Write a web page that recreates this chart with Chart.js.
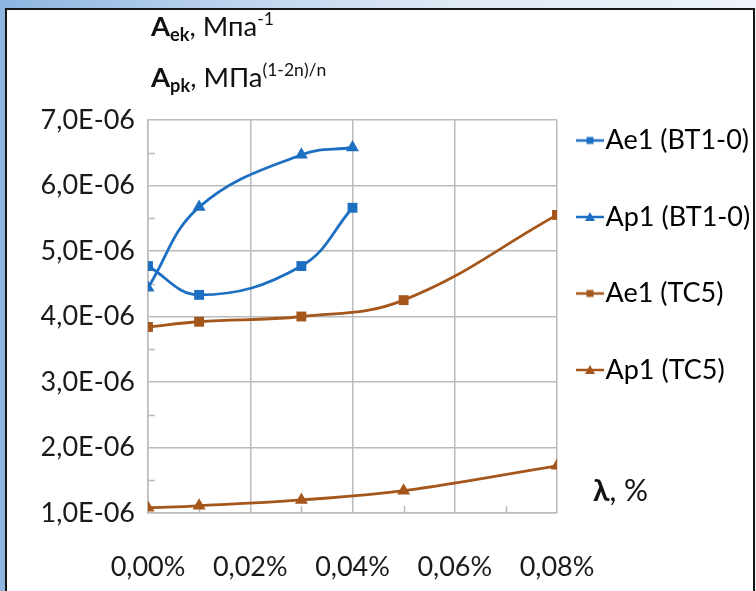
<!DOCTYPE html>
<html>
<head>
<meta charset="utf-8">
<script src="https://cdn.jsdelivr.net/npm/chart.js@4/dist/chart.umd.min.js"></script>
<style>
  html, body { margin: 0; padding: 0; }
  body {
    width: 756px; height: 591px; overflow: hidden; position: relative;
    background: linear-gradient(to right, #8cb5e0 0%, #bcd3ee 30%, #dfe9f5 60%, #eef3f9 100%);
    font-family: Lato, "Open Sans", sans-serif;
  }
  #panel {
    position: absolute; left: 5px; top: 8px; width: 746px; height: 600px;
    background: #fff; border: 2px solid #151515;
  }
  #wrap { position: absolute; left: 0; top: 0; width: 756px; height: 591px; }
  .note { position: absolute; color: #111; white-space: nowrap; font-family: Lato, "Open Sans", sans-serif; line-height: 1; }
  .note b { font-weight: 700; }
  .note sub { font-size: 0.66em; font-weight: 700; vertical-align: -0.3em; }
  .note sup { font-size: 0.64em; vertical-align: 0.6em; }
</style>
</head>
<body>
<div id="panel"></div>
<div id="wrap"><canvas id="c" width="756" height="591"></canvas></div>
<div class="note" style="left:151px; top:10px; font-size:27.5px;"><b>A</b><sub>ek</sub>, Мпа<sup>-1</sup></div>
<div class="note" style="left:151px; top:61px; font-size:27.5px;"><b>A</b><sub>pk</sub>, МПа<sup>(1-2n)/n</sup></div>
<div class="note" style="left:593px; top:474px; font-size:30px;"><b>λ</b>, %</div>
<script>
// ---- data ----
const seriesNames = ['Ae1 (BT1-0)', 'Ap1 (BT1-0)', 'Ae1 (TC5)', 'Ap1 (TC5)'];
const xBT = [0, 0.01, 0.03, 0.04];              // λ, %
const ae1BT = [4.77e-6, 4.33e-6, 4.77e-6, 5.66e-6];
const ap1BT = [4.44e-6, 5.67e-6, 6.47e-6, 6.58e-6];
const xTC = [0, 0.01, 0.03, 0.05, 0.08];        // λ, %
const ae1TC = [3.84e-6, 3.92e-6, 4.00e-6, 4.25e-6, 5.55e-6];
const ap1TC = [1.08e-6, 1.11e-6, 1.20e-6, 1.34e-6, 1.72e-6];
const xTickLabels = ['0,00%', '0,02%', '0,04%', '0,06%', '0,08%'];
const yTickLabels = ['1,0E-06', '2,0E-06', '3,0E-06', '4,0E-06', '5,0E-06', '6,0E-06', '7,0E-06'];
const yMinorTicks = [1.5e-6, 2.5e-6, 3.5e-6, 4.5e-6, 5.5e-6, 6.5e-6];
const xMinorTicks = [0.01, 0.03, 0.05, 0.07];

const BLUE = '#1d6fc2';
const BROWN = '#a4561b';
const GRID = '#bbbbbb';

function pts(xs, ys) { return xs.map((x, i) => ({ x: x, y: ys[i] })); }

// legend icon: line + marker, drawn in the right part of a wider transparent canvas
function legendIcon(color, shape) {
  const c = document.createElement('canvas');
  c.width = 56; c.height = 14;
  const g = c.getContext('2d');
  g.strokeStyle = color; g.lineWidth = 2.5;
  g.beginPath(); g.moveTo(26, 7); g.lineTo(54, 7); g.stroke();
  g.fillStyle = color;
  if (shape === 'rect') {
    g.fillRect(36.5, 3.5, 7, 7);
  } else {
    g.beginPath(); g.moveTo(40, 2); g.lineTo(45, 11); g.lineTo(35, 11); g.closePath(); g.fill();
  }
  return c;
}

const icons = [legendIcon(BLUE, 'rect'), legendIcon(BLUE, 'tri'), legendIcon(BROWN, 'rect'), legendIcon(BROWN, 'tri')];

function ds(label, data, color, shape) {
  return {
    label: label, data: data,
    borderColor: color, backgroundColor: color,
    borderWidth: 2.8, tension: 0.4,
    pointStyle: shape === 'rect' ? 'rect' : 'triangle',
    pointRadius: shape === 'rect' ? 7 : 7.5,
    pointBorderWidth: 0,
    pointHoverRadius: 7,
  };
}

const minorTicks = {
  id: 'minorTicks',
  beforeDatasetsDraw(chart) {
    const { ctx, scales: { x, y } } = chart;
    ctx.save();
    ctx.strokeStyle = GRID; ctx.lineWidth = 1.5;
    yMinorTicks.forEach(v => {
      const py = Math.round(y.getPixelForValue(v)) + 0.5;
      ctx.beginPath(); ctx.moveTo(x.left, py); ctx.lineTo(x.left + 7, py); ctx.stroke();
    });
    xMinorTicks.forEach(v => {
      const px = Math.round(x.getPixelForValue(v)) + 0.5;
      ctx.beginPath(); ctx.moveTo(px, y.bottom); ctx.lineTo(px, y.bottom - 7); ctx.stroke();
    });
    ctx.restore();
  }
};

const FONT = 'Lato, "Open Sans", sans-serif';

new Chart(document.getElementById('c'), {
  type: 'line',
  data: {
    datasets: [
      ds(seriesNames[0], pts(xBT, ae1BT), BLUE, 'rect'),
      ds(seriesNames[1], pts(xBT, ap1BT), BLUE, 'tri'),
      ds(seriesNames[2], pts(xTC, ae1TC), BROWN, 'rect'),
      ds(seriesNames[3], pts(xTC, ap1TC), BROWN, 'tri'),
    ]
  },
  options: {
    responsive: false,
    animation: false,
    layout: { padding: { left: -40, top: 120, right: 0, bottom: 0 } },
    plugins: {
      tooltip: { enabled: false },
      legend: {
        position: 'right',
        align: 'start',
        labels: {
          usePointStyle: true,
          pointStyleWidth: 28,
          padding: 7,
          color: '#1a1a1a',
          font: { family: FONT, size: 27, lineHeight: 2.574 },
          generateLabels(chart) {
            return chart.data.datasets.map((d, i) => ({
              text: [d.label],
              pointStyle: icons[i],
              fillStyle: d.borderColor,
              strokeStyle: d.borderColor,
              lineWidth: 0,
              hidden: false,
              datasetIndex: i,
            }));
          }
        }
      }
    },
    scales: {
      x: {
        type: 'linear',
        min: 0, max: 0.08,
        afterFit(s) { s.height = 78; },
        ticks: {
          stepSize: 0.02,
          padding: 38,
          color: '#1a1a1a',
          font: { family: FONT, size: 27 },
          callback: (v, i) => xTickLabels[i]
        },
        grid: { color: GRID, lineWidth: 1.5, drawTicks: false },
        border: { color: GRID, width: 1.5 }
      },
      y: {
        type: 'linear',
        min: 1e-6, max: 7e-6,
        afterFit(s) { s.width = 188; },
        ticks: {
          stepSize: 1e-6,
          padding: 13,
          color: '#1a1a1a',
          font: { family: FONT, size: 27 },
          callback: (v, i) => yTickLabels[i]
        },
        grid: { color: GRID, lineWidth: 1.5, drawTicks: false },
        border: { color: GRID, width: 1.5 }
      }
    }
  },
  plugins: [minorTicks]
});
</script>
</body>
</html>
